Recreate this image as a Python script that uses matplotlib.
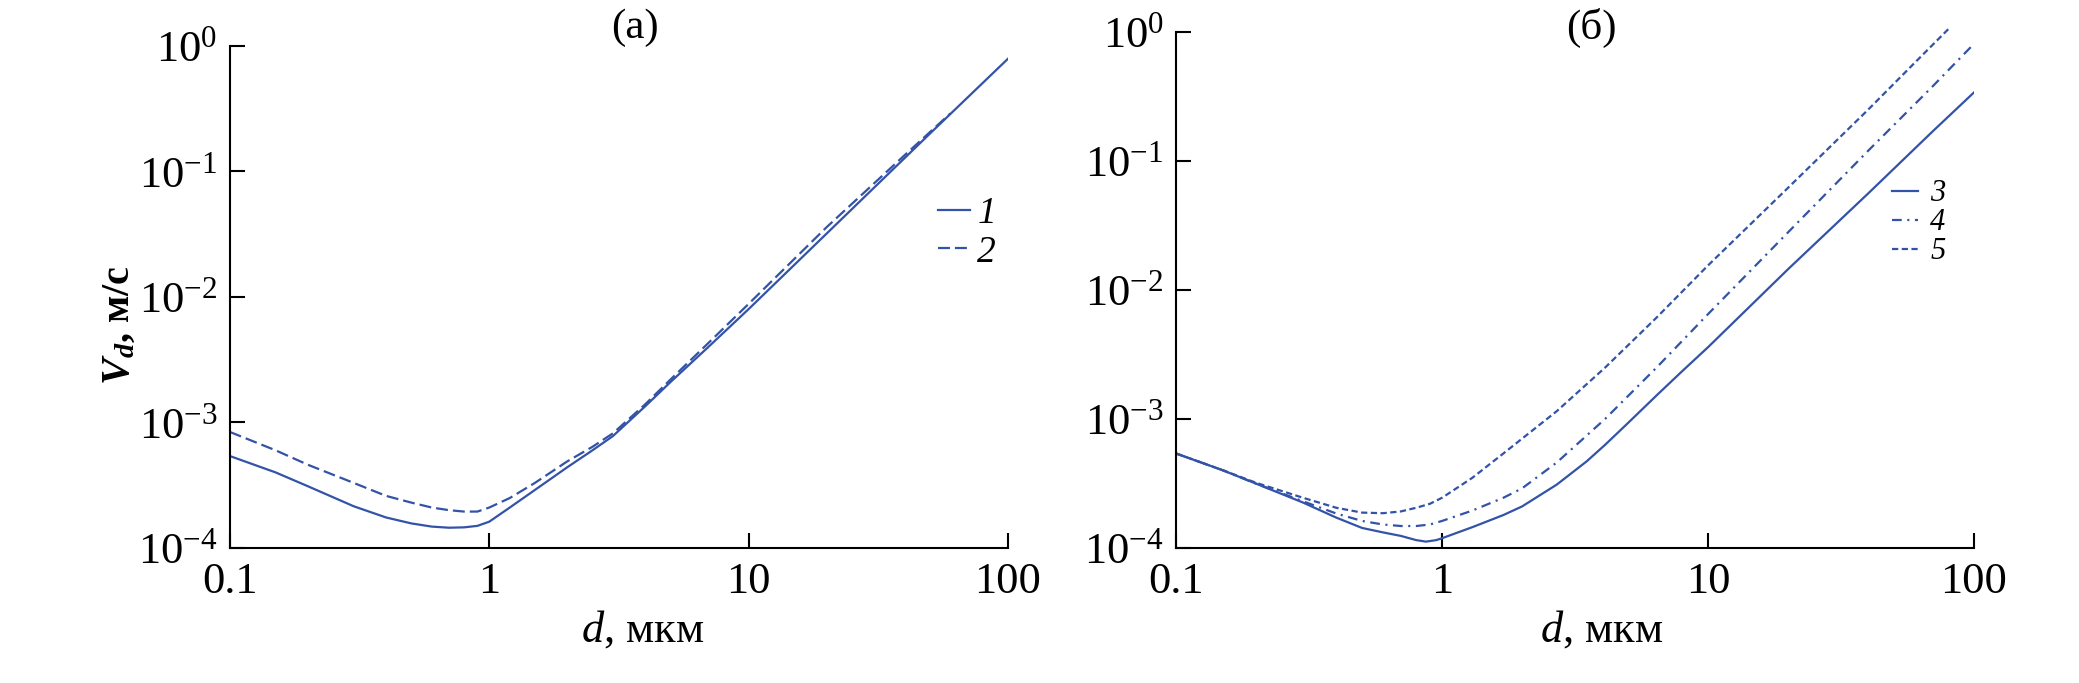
import numpy as np
import matplotlib
matplotlib.use("Agg")
import matplotlib.pyplot as plt
from matplotlib.ticker import FixedLocator, FixedFormatter, NullLocator

plt.rcParams['font.family'] = ['Liberation Serif', 'DejaVu Serif']
plt.rcParams['mathtext.fontset'] = 'custom'
plt.rcParams['mathtext.rm'] = 'Liberation Serif'
plt.rcParams['mathtext.it'] = 'Liberation Serif:italic'
plt.rcParams['mathtext.bf'] = 'Liberation Serif:italic:bold'
plt.rcParams['lines.scale_dashes'] = False

BLUE = '#3353a8'

# panel (a)
d1 = [0.1, 0.15, 0.2, 0.3, 0.4, 0.5, 0.6, 0.7, 0.8, 0.9, 1.0, 1.2, 1.5, 2.0, 2.5, 3.0, 4.0,
      5.0, 7.0, 10, 20, 50, 100]
v1 = [5.4e-4, 4.0e-4, 3.1e-4, 2.15e-4, 1.75e-4, 1.57e-4, 1.48e-4, 1.45e-4, 1.46e-4, 1.5e-4,
      1.62e-4, 2.1e-4, 2.9e-4, 4.4e-4, 6.0e-4, 7.8e-4, 1.35e-3, 2.1e-3, 4.0e-3, 8.0e-3,
      3.2e-2, 0.2, 0.79]
d2 = [0.1, 0.15, 0.2, 0.3, 0.4, 0.5, 0.6, 0.7, 0.8, 0.9, 1.0, 1.2, 1.5, 2.0, 2.5, 3.0, 4.0,
      5.0, 7.0, 10, 20, 40, 60]
v2 = [8.4e-4, 6.0e-4, 4.6e-4, 3.3e-4, 2.6e-4, 2.3e-4, 2.1e-4, 2.0e-4, 1.95e-4, 1.95e-4,
      2.1e-4, 2.5e-4, 3.3e-4, 4.9e-4, 6.4e-4, 8.2e-4, 1.4e-3, 2.2e-3, 4.3e-3, 8.8e-3,
      3.6e-2, 0.135, 0.29]

# panel (б)
d3 = [0.1, 0.15, 0.2, 0.3, 0.4, 0.5, 0.6, 0.7, 0.8, 0.87, 0.95, 1.0, 1.3, 1.7, 2.0, 2.7, 3.5,
      4.1, 5.0, 6.4, 8.0, 10, 20, 40, 70, 100]
v3 = [5.4e-4, 4.0e-4, 3.15e-4, 2.25e-4, 1.72e-4, 1.43e-4, 1.32e-4, 1.24e-4, 1.15e-4, 1.12e-4,
      1.15e-4, 1.19e-4, 1.45e-4, 1.8e-4, 2.1e-4, 3.1e-4, 4.7e-4, 6.3e-4, 9.3e-4, 1.52e-3,
      2.35e-3, 3.6e-3, 1.45e-2, 5.6e-2, 0.17, 0.34]
d4 = [0.1, 0.15, 0.2, 0.3, 0.4, 0.5, 0.6, 0.7, 0.8, 0.9, 1.0, 1.3, 1.7, 2.0, 2.7, 4.1, 6.4,
      10, 20, 40, 70, 100]
v4 = [5.4e-4, 4.0e-4, 3.15e-4, 2.3e-4, 1.85e-4, 1.62e-4, 1.52e-4, 1.48e-4, 1.48e-4, 1.52e-4,
      1.62e-4, 1.95e-4, 2.45e-4, 2.9e-4, 4.6e-4, 1.0e-3, 2.5e-3, 6.5e-3, 2.8e-2, 0.12, 0.38, 0.81]
d5 = [0.1, 0.15, 0.2, 0.3, 0.4, 0.5, 0.6, 0.7, 0.8, 0.9, 1.0, 1.3, 1.7, 2.7, 4.1, 6.4, 10,
      20, 40, 60, 80]
v5 = [5.4e-4, 4.0e-4, 3.2e-4, 2.45e-4, 2.05e-4, 1.88e-4, 1.86e-4, 1.92e-4, 2.05e-4, 2.2e-4,
      2.45e-4, 3.5e-4, 5.4e-4, 1.15e-3, 2.5e-3, 6.1e-3, 1.55e-2, 6.2e-2, 0.25, 0.58, 1.05]

xticks = [0.1, 1, 10, 100]
xlabels = ['0.1', '1', '10', '100']
yticks = [1e-4, 1e-3, 1e-2, 1e-1, 1]
ylabels = [r'$10^{-4}$', r'$10^{-3}$', r'$10^{-2}$', r'$10^{-1}$', r'$10^{0}$']

ls_dash = (0, (8.6, 3.6))
ls_dashdot = (0, (7, 4, 1.5, 4))
ls_short = (0, (4.5, 2.5))


def style_axes(ax):
    ax.set_xscale('log')
    ax.set_yscale('log')
    ax.set_xlim(0.1, 100)
    ax.set_ylim(1e-4, 1)
    for s in ['top', 'right']:
        ax.spines[s].set_visible(False)
    for s in ['left', 'bottom']:
        ax.spines[s].set_linewidth(1.5)
    ax.xaxis.set_major_locator(FixedLocator(xticks))
    ax.xaxis.set_major_formatter(FixedFormatter(xlabels))
    ax.yaxis.set_major_locator(FixedLocator(yticks))
    ax.yaxis.set_major_formatter(FixedFormatter(ylabels))
    ax.xaxis.set_minor_locator(NullLocator())
    ax.yaxis.set_minor_locator(NullLocator())
    ax.tick_params(axis='both', direction='in', length=11, width=1.5, labelsize=32)
    ax.tick_params(axis='x', pad=10)
    ax.tick_params(axis='y', pad=9)


fig = plt.figure(figsize=(20.79, 6.83), dpi=100)
ax1 = fig.add_axes([0.1106, 0.1977, 0.3742, 0.735])
ax2 = fig.add_axes([0.5657, 0.1977, 0.3838, 0.7555])

ax1.plot(d1, v1, color=BLUE, lw=1.6, label='1')
ax1.plot(d2, v2, color=BLUE, lw=1.6, ls=ls_dash, label='2')
style_axes(ax1)
ax1.legend(loc='center left', bbox_to_anchor=(0.91, 0.627), frameon=False,
           prop={'style': 'italic', 'size': 27}, handlelength=0.85, handletextpad=0.2,
           borderpad=0, borderaxespad=0, labelspacing=0.1)
ax1.text(0.52, 1.036, '(a)', transform=ax1.transAxes, ha='center', va='center', fontsize=31)
ax1.text(0.53, -0.163, '$d$, мкм', transform=ax1.transAxes, ha='center', va='center', fontsize=32)
ax1.text(-0.142, 0.444, r'$\mathbf{V_d}$, м/с', transform=ax1.transAxes, rotation=90,
         ha='center', va='center', fontsize=29, fontweight='bold')

ax2.plot(d3, v3, color=BLUE, lw=1.6, label='3')
ax2.plot(d4, v4, color=BLUE, lw=1.6, ls=ls_dashdot, label='4')
ax2.plot(d5, v5, color=BLUE, lw=1.6, ls=ls_short, label='5', clip_on=False)
style_axes(ax2)
ax2.legend(loc='center left', bbox_to_anchor=(0.897, 0.63), frameon=False,
           prop={'style': 'italic', 'size': 22}, handlelength=0.85, handletextpad=0.4,
           borderpad=0, borderaxespad=0, labelspacing=0.0)
ax2.text(0.52, 1.008, '(б)', transform=ax2.transAxes, ha='center', va='center', fontsize=31)
ax2.text(0.534, -0.159, '$d$, мкм', transform=ax2.transAxes, ha='center', va='center', fontsize=32)

fig.savefig('out.png', dpi=100)
